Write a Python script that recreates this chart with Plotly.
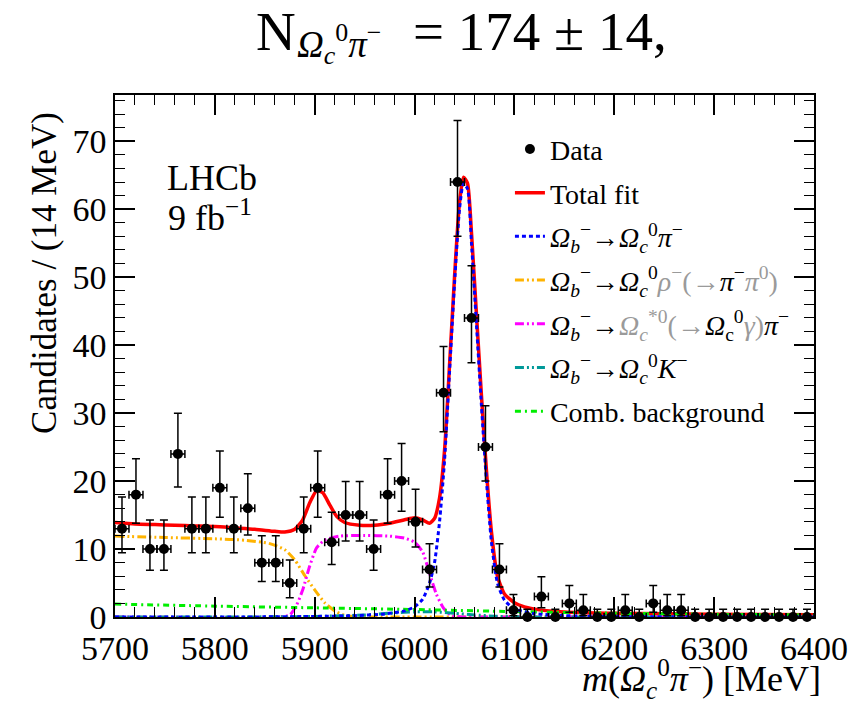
import plotly.graph_objects as go

# ---------------- data ----------------
mass = [5707, 5721, 5735, 5749, 5763, 5777, 5791, 5805, 5819, 5833,
        5847, 5861, 5875, 5889, 5903, 5917, 5931, 5945, 5959, 5973,
        5987, 6001, 6015, 6029, 6043, 6057, 6071, 6085, 6099, 6113,
        6127, 6141, 6155, 6169, 6183, 6197, 6211, 6225, 6239, 6253,
        6267, 6281, 6295, 6309, 6323, 6337, 6351, 6365, 6379, 6393]
counts = [13, 18, 10, 10, 24, 13, 13, 19, 13, 16,
          8, 8, 5, 13, 19, 11, 15, 15, 10, 18,
          20, 14, 7, 33, 64, 44, 25, 7, 1, 0,
          3, 0, 2, 1, 0, 0, 1, 0, 2, 1,
          1, 0, 0, 0, 0, 0, 0, 0, 0, 0]
err_hi = [4.67, 5.30, 4.26, 4.26, 5.97, 4.67, 4.67, 5.41, 4.67, 5.06,
          3.94, 3.94, 3.38, 4.67, 5.41, 4.41, 4.93, 4.93, 4.26, 5.30,
          5.53, 4.80, 3.77, 6.80, 9.03, 7.68, 6.07, 3.77, 2.30, 1.15,
          2.92, 1.15, 2.64, 2.30, 1.15, 1.15, 2.30, 1.15, 2.64, 2.30,
          2.30, 1.15, 1.15, 1.15, 1.15, 1.15, 1.15, 1.15, 1.15, 1.15]
err_lo = [3.55, 4.20, 3.11, 3.11, 4.88, 3.55, 3.55, 4.32, 3.55, 3.95,
          2.77, 2.77, 2.16, 3.55, 4.32, 3.26, 3.82, 3.82, 3.11, 4.20,
          4.44, 3.69, 2.58, 5.73, 7.98, 6.61, 4.99, 2.58, 0.83, 0.0,
          1.63, 0.0, 1.29, 0.83, 0.0, 0.0, 0.83, 0.0, 1.29, 0.83,
          0.83, 0.0, 0.0, 0.0, 0.0, 0.0, 0.0, 0.0, 0.0, 0.0]
bin_half_width = 7

total_x = [5700, 5720, 5740, 5760, 5780, 5800, 5820, 5840, 5860, 5870,
           5880, 5888, 5895, 5902, 5908, 5915, 5922, 5930, 5945, 5960,
           5975, 5990, 6000, 6008, 6015, 6020, 6025, 6030, 6035, 6040,
           6045, 6049, 6053, 6057, 6062, 6067, 6072, 6077, 6083, 6090,
           6100, 6110, 6125, 6150, 6200, 6300, 6400]
total_y = [13.9, 13.7, 13.6, 13.5, 13.4, 13.3, 13.1, 12.9, 12.6, 12.5,
           12.9, 14.3, 16.8, 18.6, 18.3, 16.5, 14.8, 13.9, 13.5, 13.5,
           13.8, 14.3, 14.6, 14.3, 13.8, 14.5, 17.5, 24.5, 37.0, 50.0,
           61.0, 64.7, 63.8, 56.5, 44.5, 32.5, 21.5, 12.5, 6.0, 3.4,
           2.1, 1.5, 1.05, 0.75, 0.55, 0.42, 0.32]

sig_x = [5700, 5850, 5900, 5940, 5970, 5990, 6000, 6008, 6015, 6020,
         6025, 6030, 6035, 6040, 6045, 6049, 6053, 6057, 6062, 6067,
         6072, 6077, 6083, 6090, 6100, 6120, 6150, 6200, 6300, 6400]
sig_y = [0.0, 0.02, 0.08, 0.2, 0.45, 0.9, 1.5, 2.6, 5.0, 8.0,
         14.0, 23.0, 36.0, 49.0, 60.0, 63.8, 63.0, 55.0, 43.0, 31.0,
         20.0, 11.0, 5.0, 2.5, 1.2, 0.5, 0.2, 0.06, 0.01, 0.0]

rho_x = [5700, 5750, 5800, 5830, 5855, 5870, 5880, 5890, 5900, 5910,
         5920, 5930, 5945, 5960, 6400]
rho_y = [11.9, 11.7, 11.5, 11.3, 10.8, 9.9, 8.4, 6.1, 4.0, 2.1,
         0.9, 0.25, 0.03, 0.0, 0.0]

gam_x = [5700, 5860, 5875, 5882, 5888, 5895, 5902, 5910, 5925, 5950,
         5975, 5990, 6000, 6008, 6015, 6022, 6029, 6036, 6045, 6060, 6400]
gam_y = [0.0, 0.0, 0.3, 1.8, 4.0, 7.5, 10.2, 11.3, 11.9, 12.0,
         11.9, 11.6, 11.0, 9.6, 6.4, 3.3, 1.3, 0.3, 0.03, 0.0, 0.0]

kaon_x = [5700, 5850, 5900, 5950, 5980, 6000, 6020, 6040, 6060, 6080, 6100, 6150, 6400]
kaon_y = [0.0, 0.02, 0.08, 0.3, 0.6, 0.75, 0.75, 0.55, 0.3, 0.12, 0.04, 0.0, 0.0]

comb_x = [5700, 5800, 5900, 6000, 6100, 6200, 6300, 6400]
comb_y = [1.9, 1.6, 1.35, 1.1, 0.8, 0.55, 0.4, 0.3]

x_ticks = [5700, 5800, 5900, 6000, 6100, 6200, 6300, 6400]
y_ticks = [0, 10, 20, 30, 40, 50, 60, 70]

# ---------------- labels ----------------
OMB = "<i>Ω</i><sub><i>b</i></sub><sup>−</sup>"
OMC = "<i>Ω</i><sub><i>c</i></sub><sup>0</sup>"
GRAY = "#9a9a9a"
names = {
    "data": "Data",
    "total": "Total fit",
    "sig": f"{OMB}→{OMC}<i>π</i><sup>−</sup>",
    "rho": f"{OMB}→{OMC}<span style='color:{GRAY}'><i>ρ</i><sup>−</sup>(→</span>"
           f"<i>π</i><sup>−</sup><span style='color:{GRAY}'><i>π</i><sup>0</sup>)</span>",
    "gam": f"{OMB}→<span style='color:{GRAY}'><i>Ω</i><sub><i>c</i></sub><sup>*0</sup>(→</span>"
           f"<i>Ω</i><sub>c</sub><sup>0</sup><span style='color:{GRAY}'><i>γ</i>)</span><i>π</i><sup>−</sup>",
    "kaon": f"{OMB}→{OMC}<i>K</i><sup>−</sup>",
    "comb": "Comb. background",
}

FONT = "Liberation Serif"

fig = go.Figure()

fig.add_trace(go.Scatter(
    x=total_x, y=total_y, mode="lines", name=names["total"],
    line=dict(color="#ff0000", width=3.5, shape="spline", smoothing=0.6),
    legendrank=2, legendgroup="g2"))
fig.add_trace(go.Scatter(
    x=rho_x, y=rho_y, mode="lines", name=names["rho"],
    line=dict(color="#ffb300", width=3, shape="spline", smoothing=0.6,
              dash="9px,3px,2px,3px,2px,3px"),
    legendrank=4, legendgroup="g4"))
fig.add_trace(go.Scatter(
    x=gam_x, y=gam_y, mode="lines", name=names["gam"],
    line=dict(color="#ff00ff", width=3, shape="spline", smoothing=0.6,
              dash="9px,3px,2px,3px,2px,3px"),
    legendrank=5, legendgroup="g5"))
fig.add_trace(go.Scatter(
    x=kaon_x, y=kaon_y, mode="lines", name=names["kaon"],
    line=dict(color="#009999", width=3, shape="spline", smoothing=0.6,
              dash="9px,3px,2px,3px,2px,3px"),
    legendrank=6, legendgroup="g6"))
fig.add_trace(go.Scatter(
    x=comb_x, y=comb_y, mode="lines", name=names["comb"],
    line=dict(color="#00ee00", width=3, shape="spline", smoothing=0.6,
              dash="6px,4px,2px,4px"),
    legendrank=7, legendgroup="g7"))
fig.add_trace(go.Scatter(
    x=sig_x, y=sig_y, mode="lines", name=names["sig"],
    line=dict(color="#0000ff", width=3, shape="spline", smoothing=0.6,
              dash="4px,3px"),
    legendrank=3, legendgroup="g3"))
fig.add_trace(go.Scatter(
    x=mass, y=counts, mode="markers", name=names["data"],
    marker=dict(color="black", size=10),
    error_y=dict(type="data", symmetric=False, array=err_hi, arrayminus=err_lo,
                 color="black", thickness=1.5, width=4),
    error_x=dict(type="constant", value=bin_half_width,
                 color="black", thickness=1.5, width=4),
    cliponaxis=False, legendrank=1, legendgroup="g1"))

axis_common = dict(
    showline=True, linecolor="black", linewidth=1.5, mirror="allticks",
    ticks="inside", ticklen=20, tickwidth=1.5, tickcolor="black",
    showgrid=False, zeroline=False,
    tickfont=dict(family=FONT, size=34, color="black"),
)

fig.update_xaxes(range=[5700, 6400], tickvals=x_ticks,
                 minor=dict(ticks="inside", ticklen=10, dtick=20, tick0=5700,
                            tickwidth=1.2, tickcolor="black"),
                 **axis_common)
fig.update_yaxes(range=[0, 76.8], tickvals=y_ticks,
                 minor=dict(ticks="inside", ticklen=10, dtick=2, tick0=0,
                            tickwidth=1.2, tickcolor="black"),
                 **axis_common)

fig.update_layout(
    width=860, height=702,
    margin=dict(l=115, r=42, t=95, b=85),
    paper_bgcolor="white", plot_bgcolor="white",
    font=dict(family=FONT, color="black"),
    showlegend=True,
    legend=dict(x=0.565, y=0.944, xanchor="left", yanchor="top",
                font=dict(family=FONT, size=28, color="black"),
                bgcolor="rgba(0,0,0,0)", tracegroupgap=4.3,
                traceorder="grouped"),
)

annotations = [
    dict(text="N", xref="paper", yref="paper", x=0.199, y=1.1207,
         xanchor="left", yanchor="middle", showarrow=False,
         font=dict(family=FONT, size=55, color="black")),
    dict(text="<i>Ω</i><sub><i>c</i></sub><sup>0</sup><i>π</i><sup>−</sup>",
         xref="paper", yref="paper", x=0.2575, y=1.098,
         xanchor="left", yanchor="middle", showarrow=False,
         font=dict(family=FONT, size=37, color="black")),
    dict(text="= 174 ± 14,", xref="paper", yref="paper", x=0.4240, y=1.1207,
         xanchor="left", yanchor="middle", showarrow=False,
         font=dict(family=FONT, size=55, color="black")),
    dict(text="LHCb", xref="paper", yref="paper", x=0.071, y=0.841,
         xanchor="left", yanchor="middle", showarrow=False,
         font=dict(family=FONT, size=36, color="black")),
    dict(text="9 fb<sup>−1</sup>", xref="paper", yref="paper", x=0.073, y=0.77,
         xanchor="left", yanchor="middle", showarrow=False,
         font=dict(family=FONT, size=36, color="black")),
    dict(text="Candidates / (14 MeV)", xref="paper", yref="paper", x=-0.101, y=0.66,
         xanchor="center", yanchor="middle", textangle=-90, showarrow=False,
         font=dict(family=FONT, size=35, color="black")),
    dict(text="<i>m</i>(<i>Ω</i><sub><i>c</i></sub><sup>0</sup><i>π</i><sup>−</sup>) [MeV]",
         xref="paper", yref="paper", x=1.013, y=-0.118, xanchor="right", yanchor="middle",
         showarrow=False, font=dict(family=FONT, size=36, color="black")),
]
fig.update_layout(annotations=annotations)

fig.write_html("out.html")
